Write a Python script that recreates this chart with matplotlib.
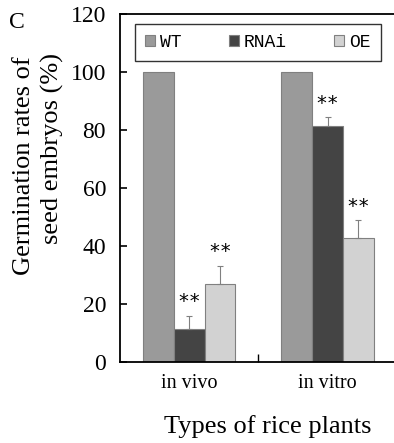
import numpy as np
import matplotlib.pyplot as plt

# data
groups = ['in vivo', 'in vitro']
series = ['WT', 'RNAi', 'OE']
values = {
    'WT': [100, 100],
    'RNAi': [11.3, 81.5],
    'OE': [26.9, 42.8],
}
errors = {
    'WT': [0, 0],
    'RNAi': [4.7, 2.9],
    'OE': [6.3, 6.0],
}
signif = {
    'WT': ['', ''],
    'RNAi': ['**', '**'],
    'OE': ['**', '**'],
}
colors = {'WT': '#9a9a9a', 'RNAi': '#444444', 'OE': '#d2d2d2'}

plt.rcParams['font.family'] = ['Liberation Serif', 'DejaVu Serif']

fig = plt.figure(figsize=(3.94, 4.43), dpi=100)
ax = fig.add_axes([120 / 394, 1 - 362 / 443, 1 - 120 / 394, 348 / 443])

x = np.arange(len(groups))
w = 0.223
for i, s in enumerate(series):
    pos = x + (i - 1) * w
    ax.bar(pos, values[s], w, color=colors[s], edgecolor='#808080',
           linewidth=0.8, label=s, zorder=2)
    for p, v, e, t in zip(pos, values[s], errors[s], signif[s]):
        if e > 0:
            ax.errorbar(p, v, yerr=[[0], [e]], fmt='none', ecolor='#808080',
                        elinewidth=0.8, capsize=2, capthick=0.8, zorder=3)
        if t:
            ax.text(p, v + e + 1.5, t, ha='center', va='bottom',
                    fontsize=14, family='DejaVu Sans Mono', zorder=4)

ax.set_xlim(-0.5, 1.48)
ax.set_ylim(0, 120)
ax.set_yticks(range(0, 121, 20))
ax.tick_params(axis='y', direction='in', length=5, width=1.2,
               labelsize=17, pad=10)
ax.set_xticks([0.5])
ax.set_xticklabels([''])
ax.tick_params(axis='x', direction='in', length=6, width=1)
for g, xi in zip(groups, x):
    ax.text(xi, -4.3, g, ha='center', va='top', fontsize=14.5,
            transform=ax.transData)
ax.spines['right'].set_visible(False)
for sp in ['left', 'bottom', 'top']:
    ax.spines[sp].set_linewidth(1.3)

# y label as two lines, placed like the original
fig.text(24 / 394, 1 - 166 / 443, 'Germination rates of', rotation=90,
         ha='center', va='center', fontsize=19)
fig.text(52 / 394, 1 - 148 / 443, 'seed embryos (%)', rotation=90,
         ha='center', va='center', fontsize=19)
fig.text(268 / 394, 1 - 427 / 443, 'Types of rice plants', ha='center',
         va='center', fontsize=19)
fig.text(9 / 394, 1 - 23 / 443, 'C', ha='left', va='center', fontsize=17)

leg = ax.legend(loc='upper left', bbox_to_anchor=(15 / 274, 1 - 10 / 348),
                ncol=3, frameon=True, fancybox=False, edgecolor='black',
                handlelength=0.55, handleheight=0.55, handletextpad=0.3,
                columnspacing=2.6, borderpad=0.55, borderaxespad=0,
                prop={'family': 'Liberation Mono', 'size': 13})
leg.get_frame().set_linewidth(1.0)

fig.savefig('out.png', dpi=100)
